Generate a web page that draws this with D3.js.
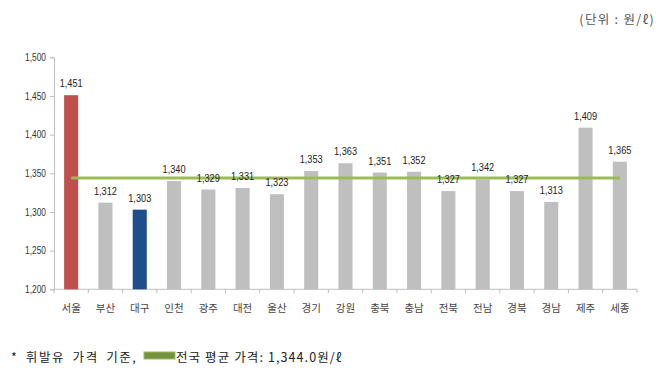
<!DOCTYPE html>
<html><head><meta charset="utf-8">
<script src="https://cdn.jsdelivr.net/npm/d3@7"></script>
<style>body{margin:0;background:#fff}svg{display:block}</style>
</head><body>
<svg id="c" width="670" height="382"></svg>
<script>
const categories = ["서울","부산","대구","인천","광주","대전","울산","경기","강원","충북","충남","전북","전남","경북","경남","제주","세종"];
const values = [1451,1312,1303,1340,1329,1331,1323,1353,1363,1351,1352,1327,1342,1327,1313,1409,1365];
const average = 1344.0;
const yTicks = [1200,1250,1300,1350,1400,1450,1500];
const highlight = {"서울":"#C0504D","대구":"#1F4E8C"};

const svg = d3.select("#c");
const x = d3.scaleBand().domain(categories).range([54,637]).paddingInner(0.59).paddingOuter(0.295);
const y = d3.scaleLinear().domain([1200,1500]).range([289.3,57.3]);
const numFont = "'Liberation Sans',sans-serif";
const fmt = d3.format(",");

// y axis
const ya = svg.append("g").attr("transform","translate(54,0)")
  .call(d3.axisLeft(y).tickValues(yTicks).tickFormat(fmt).tickSize(4).tickPadding(4));
ya.select(".domain").attr("stroke","#BFBFBF");
ya.selectAll(".tick line").attr("stroke","#BFBFBF");
ya.selectAll(".tick text").attr("font-family",numFont).attr("font-size",10.5).attr("fill","#333")
  .attr("transform","scale(0.8,1)").attr("x",-8/0.8);

// x axis with boundary ticks
const xa = svg.append("g").attr("transform","translate(0,289.3)");
xa.append("line").attr("x1",54).attr("x2",637).attr("stroke","#BFBFBF");
const bounds = d3.range(categories.length+1).map(i=>54 + i*(637-54)/categories.length);
xa.selectAll(".bt").data(bounds).join("line").attr("x1",d=>d).attr("x2",d=>d).attr("y1",0).attr("y2",4).attr("stroke","#BFBFBF");
xa.selectAll(".lbl").data(categories).join("text")
  .attr("x",d=>x(d)+x.bandwidth()/2).attr("y",23)
  .attr("text-anchor","middle").attr("font-family","'Noto Sans CJK KR',sans-serif")
  .attr("font-size",10.5).attr("fill","#444").text(d=>d);

// bars
svg.selectAll(".bar").data(categories).join("rect")
  .attr("x",d=>x(d)).attr("width",x.bandwidth())
  .attr("y",(d,i)=>y(values[i])).attr("height",(d,i)=>y(1200)-y(values[i]))
  .attr("fill",d=>highlight[d]||"#BFBFBF");

// average line
svg.append("line")
  .attr("x1",x(categories[0])+x.bandwidth()/2).attr("x2",x(categories[categories.length-1])+x.bandwidth()/2)
  .attr("y1",y(average)).attr("y2",y(average))
  .attr("stroke","#9BBB59").attr("stroke-width",3);

// value labels
svg.selectAll(".vl").data(categories).join("g")
  .attr("transform",(d,i)=>`translate(${x(d)+x.bandwidth()/2},${y(values[i])-8}) scale(0.8,1)`)
  .append("text").attr("text-anchor","middle").attr("font-family",numFont).attr("font-size",11.5).attr("fill","#222")
  .text((d,i)=>fmt(values[i]));

// unit
svg.append("text").attr("x",655).attr("y",24).attr("text-anchor","end")
  .attr("font-family","'Noto Sans CJK KR',sans-serif").attr("font-size",12.5).attr("letter-spacing",1.3).attr("fill","#555")
  .text("(단위 : 원/ℓ)");

// footnote
const fn = svg.append("g").attr("font-family","'Noto Sans CJK KR',sans-serif").attr("font-size",12.5).attr("fill","#222");
fn.append("text").attr("x",11).attr("y",362).attr("letter-spacing",1.6).attr("word-spacing",3).text("* 휘발유 가격 기준,");
svg.append("rect").attr("x",144).attr("y",352).attr("width",31).attr("height",7).attr("fill","#76923C").attr("stroke","#9BBB59").attr("stroke-width",1);
fn.append("text").attr("x",176).attr("y",362).attr("letter-spacing",1.1).text("전국 평균 가격: 1,344.0원/ℓ");
</script>
</body></html>
